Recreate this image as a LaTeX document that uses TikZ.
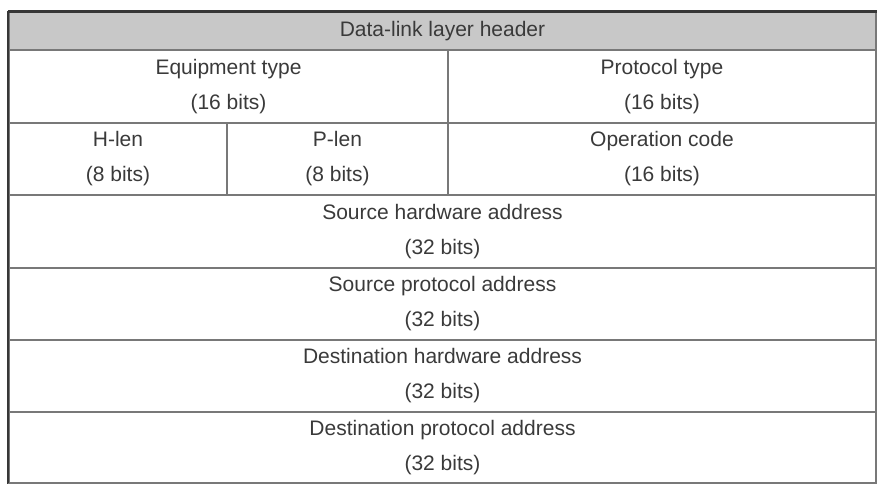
\documentclass[tikz,border=0pt]{standalone}
\definecolor{textgray}{RGB}{58, 58, 58}
\definecolor{gridgray}{RGB}{120, 120, 120}
\definecolor{framegray}{RGB}{55, 55, 55}
\definecolor{headfill}{RGB}{200, 200, 200}
\usepackage{fontspec}
\setmainfont{Liberation Sans}
\usepackage{tikz}
\usetikzlibrary{positioning}

\begin{document}
\begin{tikzpicture}[x=1pt, y=-1pt,
    cell/.style={draw=gridgray, line width=1.3pt, inner sep=0pt, align=center,
      text=textgray, font=\fontsize{21}{35}\selectfont},
    fullrow/.style={cell, minimum width=867pt, minimum height=72pt}]
                \useasboundingbox (0, 0) rectangle (878, 485);
                % Header row
                \node[cell, fill=headfill, minimum width=867pt, minimum height=38pt] (header) at (442.5, 31) {Data-link layer header};
                
                % Type fields
                \node[cell, minimum width=439pt, minimum height=73pt] (eqtype) at (228.5, 86.5) {Equipment type\\(16 bits)};
                \node[cell, minimum width=428pt, minimum height=73pt] (prototype) at (662, 86.5) {Protocol type\\(16 bits)};
                
                % Length fields and operation
                \node[cell, minimum width=218pt, minimum height=72pt] (hlen) at (118, 159) {H-len\\(8 bits)};
                \node[cell, minimum width=221pt, minimum height=72pt] (plen) at (337.5, 159) {P-len\\(8 bits)};
                \node[cell, minimum width=428pt, minimum height=72pt] (opcode) at (662, 159) {Operation code\\(16 bits)};
                
                % Addresses
                \node[fullrow] (srchw) at (442.5, 231.5) {Source hardware address\\(32 bits)};
                \node[fullrow] (srcproto) at (442.5, 304) {Source protocol address\\(32 bits)};
                \node[fullrow] (dsthw) at (442.5, 376) {Destination hardware address\\(32 bits)};
                \node[fullrow, minimum height=71pt] (dstproto) at (442.5, 447.5) {Destination protocol address\\(32 bits)};
                
                % Outer frame
                \draw[framegray, line width=2pt] (header.north west) -- (dstproto.south west);
                \draw[framegray, line width=3pt] (header.north west) -- (header.north east);
                \draw[gridgray, line width=1.5pt] (dstproto.south west) -- (dstproto.south east);
            \end{tikzpicture}
\end{document}
